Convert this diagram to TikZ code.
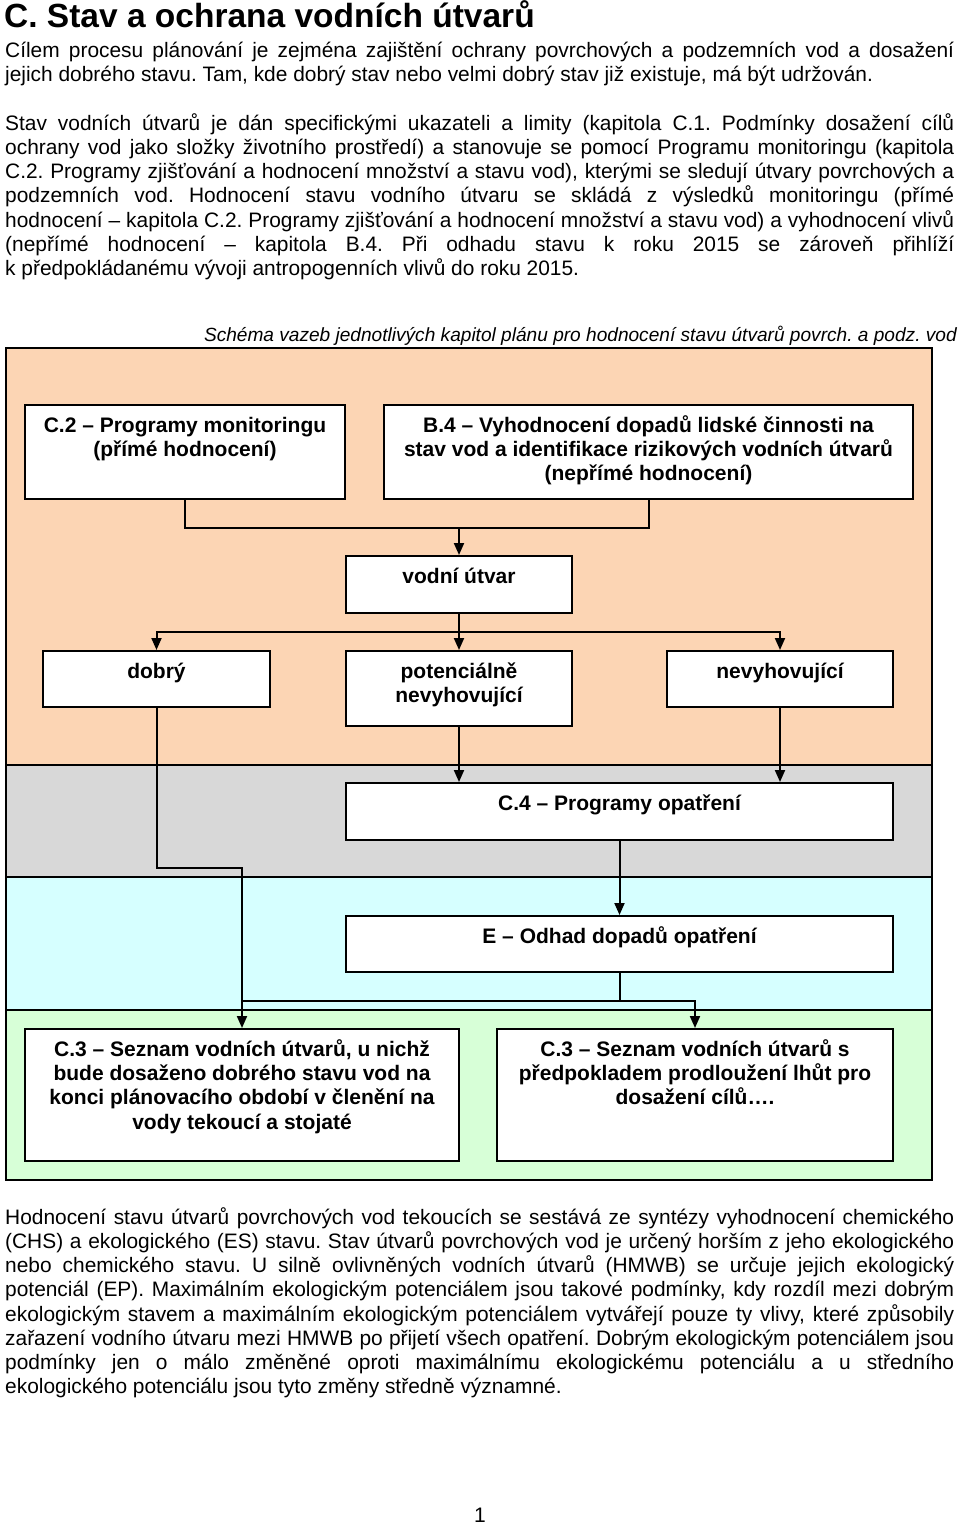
\documentclass[tikz,border=0pt]{standalone}
\usepackage{fontspec}
\setmainfont{Liberation Sans}
\usetikzlibrary{arrows.meta,fit}
\definecolor{peach}{RGB}{252,213,180}
\definecolor{bandgrey}{RGB}{216,216,216}
\definecolor{bandcyan}{RGB}{214,255,255}
\definecolor{bandgreen}{RGB}{215,255,215}
\frenchspacing
\begin{document}
\begin{tikzpicture}[x=1pt,y=-1pt,
  box/.style={draw=black,line width=2pt,fill=white,inner sep=0pt},
  btxt/.style={font=\fontsize{21}{24.4}\selectfont\bfseries,align=center,inner sep=0pt,anchor=north},
  para/.style={font=\fontsize{20.9}{24.1}\selectfont,text width=949pt,align=justify,inner sep=0pt,anchor=north west,
    execute at begin node={\frenchspacing\hyphenpenalty=10000\exhyphenpenalty=10000\tolerance=10000}},
  band/.style={draw=black,line width=2pt},
  conn/.style={line width=2pt,line join=miter},
  conna/.style={conn,-{Triangle[length=12pt,width=10pt]}}
]
\useasboundingbox (0,0) rectangle (960,1524);

% header text
\node[font=\fontsize{33.5}{38}\selectfont\bfseries,anchor=base west,inner sep=0pt] (title) at (4,27.5) {C. Stav a ochrana vodních útvarů};

\node[para] (p1) at (5,40.6) {\strut Cílem procesu plánování je zejména zajištění ochrany povrchových a podzemních vod a dosažení\linebreak
jejich dobrého stavu. Tam, kde dobrý stav nebo velmi dobrý stav již existuje, má být udržován.};

\node[para] (p2) at (5,113.6) {\strut Stav vodních útvarů je dán specifickými ukazateli a limity (kapitola C.1. Podmínky dosažení cílů\linebreak
ochrany vod jako složky životního prostředí) a stanovuje se pomocí Programu monitoringu (kapitola\linebreak
C.2. Programy zjišťování a hodnocení množství a stavu vod), kterými se sledují útvary povrchových a\linebreak
podzemních vod. Hodnocení stavu vodního útvaru se skládá z~výsledků monitoringu (přímé\linebreak
hodnocení – kapitola C.2. Programy zjišťování a hodnocení množství a stavu vod) a vyhodnocení vlivů\linebreak
(nepřímé hodnocení – kapitola B.4. Při odhadu stavu k roku 2015 se zároveň přihlíží\linebreak
k~předpokládanému vývoji antropogenních vlivů do roku 2015.};

\node[font=\fontsize{19.1}{22}\selectfont\itshape,anchor=base east,inner sep=0pt] (cap) at (957,341.5)
  {Schéma vazeb jednotlivých kapitol plánu pro hodnocení stavu útvarů povrch. a podz. vod};

% bands
\filldraw[band,fill=peach] (6,348) rectangle (932,765);
\filldraw[band,fill=bandgrey] (6,765) rectangle (932,877);
\filldraw[band,fill=bandcyan] (6,877) rectangle (932,1010);
\filldraw[band,fill=bandgreen] (6,1010) rectangle (932,1180);

% boxes
\node[box,fit={(25,405) (345,499)}] (c2) {};
\node[box,fit={(384,405) (913,499)}] (b4) {};
\node[box,fit={(346,556) (572,613)}] (vu) {};
\node[box,fit={(43,651) (270,707)}] (dob) {};
\node[box,fit={(346,651) (572,726)}] (pot) {};
\node[box,fit={(667,651) (893,707)}] (nev) {};
\node[box,fit={(346,783) (893,840)}] (c4) {};
\node[box,fit={(346,916) (893,972)}] (e) {};
\node[box,fit={(25,1029) (459,1161)}] (c3a) {};
\node[box,fit={(497,1029) (893,1161)}] (c3b) {};

% box texts
\node[btxt] (c2t) at ([yshift=-10.9pt]c2.north) {\strut C.2 – Programy monitoringu\\(přímé hodnocení)};
\node[btxt] (b4t) at ([yshift=-10.9pt]b4.north) {\strut B.4 – Vyhodnocení dopadů lidské činnosti na\\stav vod a identifikace rizikových vodních útvarů\\(nepřímé hodnocení)};
\node[btxt] (vut) at ([yshift=-10.9pt]vu.north) {\strut vodní útvar};
\node[btxt] (dobt) at ([yshift=-10.9pt]dob.north) {\strut dobrý};
\node[btxt] (pott) at ([yshift=-10.9pt]pot.north) {\strut potenciálně\\nevyhovující};
\node[btxt] (nevt) at ([yshift=-10.9pt]nev.north) {\strut nevyhovující};
\node[btxt] (c4t) at ([yshift=-10.9pt]c4.north) {\strut C.4 – Programy opatření};
\node[btxt] (et) at ([yshift=-10.9pt]e.north) {\strut E – Odhad dopadů opatření};
\node[btxt] (c3at) at ([yshift=-10.9pt]c3a.north) {\strut C.3 – Seznam vodních útvarů, u nichž\\bude dosaženo dobrého stavu vod na\\konci plánovacího období v členění na\\vody tekoucí a stojaté};
\node[btxt] (c3bt) at ([yshift=-10.9pt]c3b.north) {\strut C.3 – Seznam vodních útvarů s\\předpokladem prodloužení lhůt pro\\dosažení cílů….};

% connectors
\coordinate (j1) at (459,528);
\draw[conn] (c2.south) -- (c2.south |- j1) -- (b4.south |- j1) -- (b4.south);
\draw[conna] (j1) -- (vu.north);

\coordinate (j2) at (459,632);
\draw[conn] (vu.south) -- (j2);
\draw[conna] (j2) -| (dob.north);
\draw[conna] (j2) -| (nev.north);
\draw[conna] (j2) -- (pot.north);

\coordinate (j3) at (242,868);
\draw[conna] (dob.south) |- (j3) -- (c3a.north);

\draw[conna] (pot.south) -- (pot.south |- c4.north);
\draw[conna] (nev.south) -- (nev.south |- c4.north);
\draw[conna] (c4.south) -- (e.north);

\coordinate (j4) at (619.5,1001);
\draw[conn] (e.south) -- (j4) -- (j4 -| c3a.north);
\draw[conna] (j4) -| (c3b.north);

% bottom paragraph
\node[para] (p3) at (5,1207.6) {\strut Hodnocení stavu útvarů povrchových vod tekoucích se sestává ze syntézy vyhodnocení chemického\linebreak
(CHS) a ekologického (ES) stavu. Stav útvarů povrchových vod je určený horším z jeho ekologického\linebreak
nebo chemického stavu. U silně ovlivněných vodních útvarů (HMWB) se určuje jejich ekologický\linebreak
potenciál (EP). Maximálním ekologickým potenciálem jsou takové podmínky, kdy rozdíl mezi dobrým\linebreak
ekologickým stavem a maximálním ekologickým potenciálem vytvářejí pouze ty vlivy, které způsobily\linebreak
zařazení vodního útvaru mezi HMWB po přijetí všech opatření. Dobrým ekologickým potenciálem jsou\linebreak
podmínky jen o málo změněné oproti maximálnímu ekologickému potenciálu a u středního\linebreak
ekologického potenciálu jsou tyto změny středně významné.};

\node[font=\fontsize{21}{24}\selectfont,anchor=base,inner sep=0pt] (pg) at (480,1522) {1};
\end{tikzpicture}
\end{document}
